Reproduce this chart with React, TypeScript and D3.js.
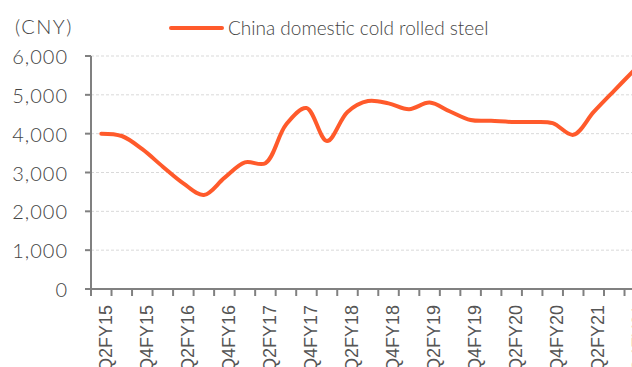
import React from "react";
import * as d3 from "d3";

const quarters: string[] = [
  "Q2FY15", "Q3FY15", "Q4FY15", "Q1FY16", "Q2FY16", "Q3FY16", "Q4FY16",
  "Q1FY17", "Q2FY17", "Q3FY17", "Q4FY17", "Q1FY18", "Q2FY18", "Q3FY18",
  "Q4FY18", "Q1FY19", "Q2FY19", "Q3FY19", "Q4FY19", "Q1FY20", "Q2FY20",
  "Q3FY20", "Q4FY20", "Q1FY21", "Q2FY21", "Q3FY21", "Q4FY21",
];

const coldRolledPrice: number[] = [
  4000, 3940, 3600, 3150, 2720, 2420, 2860, 3260, 3240, 4230, 4660, 3810,
  4560, 4840, 4780, 4630, 4800, 4570, 4350, 4330, 4300, 4300, 4270, 3970,
  4560, 5110, 5650,
];

const yTicks: number[] = [0, 1000, 2000, 3000, 4000, 5000, 6000];
const labelledQuarters: string[] = quarters.filter((_, i) => i % 2 === 0);

const unitLabel = "(CNY)";
const seriesName = "China domestic cold rolled steel";

const W = 632;
const H = 367;
const left = 91;
const top = 56;
const bottom = 289;
const bandW = 20.52;

export default function App() {
  const x = d3
    .scaleBand<string>()
    .domain(quarters)
    .range([left, left + bandW * quarters.length])
    .padding(0);
  const y = d3.scaleLinear().domain([0, 6000]).range([bottom, top]);

  const line = d3
    .line<number>()
    .x((_, i) => (x(quarters[i]) as number) + x.bandwidth() / 2)
    .y((d) => y(d))
    .curve(d3.curveCatmullRom.alpha(0.5));

  const boundaries = d3.range(quarters.length + 1).map((i) => left + i * x.bandwidth());
  const axisColor = "#808080";
  const orange = "#FF5A2B";
  const textFont = "Lato, sans-serif";

  return (
    <svg
      width={W}
      height={H}
      style={{ position: "absolute", left: 0, top: 0, background: "#fff" }}
    >
      {/* horizontal gridlines */}
      {yTicks.filter((t) => t > 0).map((t) => (
        <line
          key={"g" + t}
          x1={left}
          x2={W}
          y1={y(t)}
          y2={y(t)}
          stroke="#d9d9d9"
          strokeWidth={1}
          strokeDasharray="3,2"
        />
      ))}

      {/* y axis */}
      <line x1={left} x2={left} y1={top} y2={bottom} stroke={axisColor} strokeWidth={2} />
      {yTicks.map((t) => (
        <g key={"y" + t}>
          <line x1={left - 6} x2={left} y1={y(t)} y2={y(t)} stroke={axisColor} strokeWidth={2} />
          <text
            x={68}
            y={y(t)}
            textAnchor="end"
            dominantBaseline="central"
            fontFamily={textFont}
            fontWeight={300}
            fontSize={20}
            letterSpacing={1}
            fill="#444"
          >
            {d3.format(",")(t)}
          </text>
        </g>
      ))}

      {/* x axis */}
      <line
        x1={left}
        x2={boundaries[boundaries.length - 1]}
        y1={bottom}
        y2={bottom}
        stroke={axisColor}
        strokeWidth={2}
      />
      {boundaries.map((bx, i) => (
        <line key={"xt" + i} x1={bx} x2={bx} y1={bottom} y2={bottom + 7} stroke={axisColor} strokeWidth={2} />
      ))}
      {labelledQuarters.map((q) => {
        const cx = (x(q) as number) + x.bandwidth() / 2;
        return (
          <text
            key={"xl" + q}
            transform={`translate(${cx + 10.4},${305}) rotate(-90)`}
            textAnchor="end"
            fontFamily="'Liberation Sans', Arial, sans-serif"
            fontSize={18}
            fill="#555"
          >
            {q}
          </text>
        );
      })}

      {/* series */}
      <path
        d={line(coldRolledPrice) as string}
        fill="none"
        stroke={orange}
        strokeWidth={4}
        strokeLinejoin="round"
        strokeLinecap="round"
      />

      {/* unit + legend */}
      <text
        x={15}
        y={26}
        dominantBaseline="central"
        fontFamily={textFont}
        fontWeight={300}
        fontSize={20}
        letterSpacing={1.5}
        fill="#444"
      >
        {unitLabel}
      </text>
      <line x1={171} x2={222} y1={28} y2={28} stroke={orange} strokeWidth={4} strokeLinecap="round" />
      <text
        x={228}
        y={27}
        dominantBaseline="central"
        fontFamily={textFont}
        fontWeight={300}
        fontSize={19}
        fill="#444"
      >
        {seriesName}
      </text>
    </svg>
  );
}
